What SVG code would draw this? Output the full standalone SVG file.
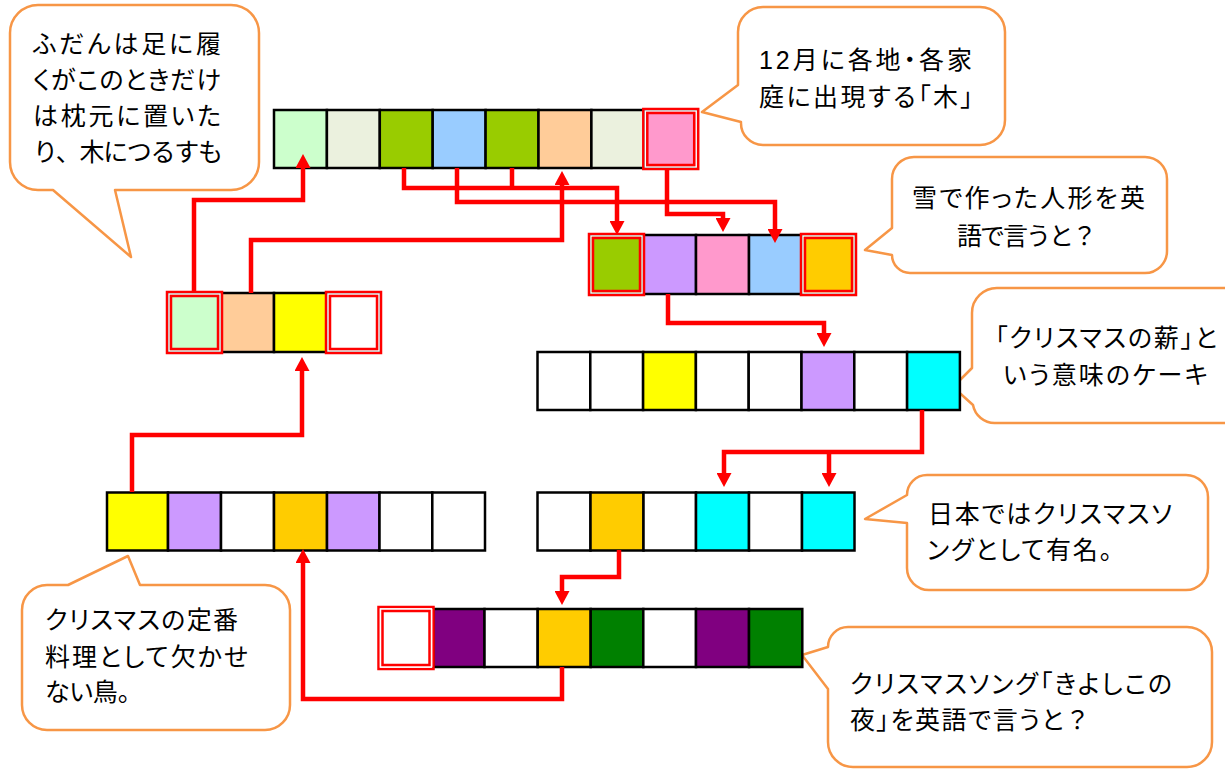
<svg xmlns="http://www.w3.org/2000/svg" width="1225" height="770" viewBox="0 0 1225 770">
<style>
.c{stroke:#000;stroke-width:2.5}
.ro{fill:none;stroke:#FF0000;stroke-width:2.5}
.rg{fill:none;stroke:#FFFFFF;stroke-width:1.5}
.ri{fill:none;stroke:#FF0000;stroke-width:2.5}
.co{fill:none;stroke:#FF0000;stroke-width:4.5;stroke-linejoin:miter}
.bub{fill:#FFFFFF;stroke:#F79646;stroke-width:2.5;stroke-linejoin:round}
.t{font-family:"Liberation Sans","Noto Sans CJK JP",sans-serif;font-size:25px;fill:#000;font-feature-settings:"palt"}
.w{font-feature-settings:normal}
</style>
<defs>
<marker id="ah" markerUnits="userSpaceOnUse" markerWidth="15" markerHeight="15" viewBox="0 0 14 15" refX="0" refY="7.5" orient="auto">
<path d="M0,0 L14,7.5 L0,15 Z" fill="#FF0000"/>
</marker>
</defs>
<rect width="1225" height="770" fill="#FFFFFF"/>

<g id="bubble-1">
<path class="bub" d="M38,5 H231 A28,28 0 0 1 259,33 V162 A28,28 0 0 1 231,190 H115 L131,257 L53,190 H38 A28,28 0 0 1 10,162 V33 A28,28 0 0 1 38,5 Z"/>
<text class="t" x="33" y="53" textLength="188" lengthAdjust="spacing">ふだんは足に履</text>
<text class="t" x="33" y="89" textLength="188" lengthAdjust="spacing">くがこのときだけ</text>
<text class="t" x="33" y="125" textLength="188" lengthAdjust="spacing">は枕元に置いた</text>
<text class="t w" x="33" y="161" textLength="190" lengthAdjust="spacing">り、木につるすも</text>
</g>

<g id="bubble-2">
<path class="bub" d="M763,7 H980 A25,25 0 0 1 1005,32 V120 A25,25 0 0 1 980,145 H763 A22,22 0 0 1 741,122 L702,112 L738,85 V32 A25,25 0 0 1 763,7 Z"/>
<text class="t" x="759" y="69" textLength="213" lengthAdjust="spacing">12月に各地・各家</text>
<text class="t" x="759" y="106" textLength="214" lengthAdjust="spacing">庭に出現する「木」</text>
</g>

<g id="bubble-3">
<path class="bub" d="M914,157 H1145 A22,22 0 0 1 1167,179 V251 A22,22 0 0 1 1145,273 H910 A18,18 0 0 1 892,255 L865,250 L892,228 V179 A22,22 0 0 1 914,157 Z"/>
<text class="t" x="912" y="207" textLength="233" lengthAdjust="spacing">雪で作った人形を英</text>
<text class="t w" x="957" y="245" textLength="140" lengthAdjust="spacing">語で言うと？</text>
</g>

<g id="bubble-4">
<path class="bub" d="M998,288 H1240 V423 H995 A22,22 0 0 1 973,405 L953,387 L972,368 V313 A25,25 0 0 1 998,288 Z"/>
<text class="t" x="995" y="347" textLength="222" lengthAdjust="spacing">「クリスマスの薪」と</text>
<text class="t" x="1003" y="384" textLength="205" lengthAdjust="spacing">いう意味のケーキ</text>
</g>

<g id="bubble-5">
<path class="bub" d="M927,475 H1186 A22,22 0 0 1 1208,497 V568 A22,22 0 0 1 1186,590 H929 A22,22 0 0 1 907,568 V523 L865,519 L907,495 A20,20 0 0 1 927,475 Z"/>
<text class="t" x="928" y="523" textLength="244" lengthAdjust="spacing">日本ではクリスマスソ</text>
<text class="t" x="927" y="559" textLength="185" lengthAdjust="spacing">ングとして有名。</text>
</g>

<g id="bubble-6">
<path class="bub" d="M47,585 H68 L128,556 L140,585 H265 A25,25 0 0 1 290,610 V705 A25,25 0 0 1 265,730 H47 A25,25 0 0 1 22,705 V610 A25,25 0 0 1 47,585 Z"/>
<text class="t" x="45" y="629" textLength="193" lengthAdjust="spacing">クリスマスの定番</text>
<text class="t" x="45" y="666" textLength="203" lengthAdjust="spacing">料理として欠かせ</text>
<text class="t" x="45" y="701" textLength="85" lengthAdjust="spacing">ない鳥。</text>
</g>

<g id="bubble-7">
<path class="bub" d="M848,627 H1187 A25,25 0 0 1 1212,652 V742 A25,25 0 0 1 1187,767 H853 A25,25 0 0 1 828,742 V689 L802,655 L828,647 A20,20 0 0 1 848,627 Z"/>
<text class="t" x="850" y="693" textLength="322" lengthAdjust="spacing">クリスマスソング「きよしこの</text>
<text class="t" x="850" y="729" textLength="240" lengthAdjust="spacing">夜」を英語で言うと<tspan class="w">？</tspan></text>
</g>

<g id="row-1">
<rect class="c" x="274" y="110" width="52.9" height="58" fill="#CCFFCC"/>
<rect class="c" x="326.9" y="110" width="52.9" height="58" fill="#EBF1DE"/>
<rect class="c" x="379.8" y="110" width="52.9" height="58" fill="#99CC00"/>
<rect class="c" x="432.7" y="110" width="52.9" height="58" fill="#99CCFF"/>
<rect class="c" x="485.6" y="110" width="52.9" height="58" fill="#99CC00"/>
<rect class="c" x="538.5" y="110" width="52.9" height="58" fill="#FFCC99"/>
<rect class="c" x="591.4" y="110" width="52.9" height="58" fill="#EBF1DE"/>
<rect class="c" x="644.3" y="110" width="52.9" height="58" fill="#FF99CC"/>
<rect class="ro" x="643.3" y="109" width="54.9" height="60"/>
<rect class="rg" x="645.3" y="111" width="50.9" height="56"/>
<rect class="ri" x="647.3" y="113" width="46.9" height="52"/>
</g>

<g id="row-2">
<rect class="c" x="590" y="235" width="53" height="59" fill="#99CC00"/>
<rect class="c" x="643" y="235" width="53" height="59" fill="#CC99FF"/>
<rect class="c" x="696" y="235" width="53" height="59" fill="#FF99CC"/>
<rect class="c" x="749" y="235" width="53" height="59" fill="#99CCFF"/>
<rect class="c" x="802" y="235" width="53" height="59" fill="#FFCC00"/>
<rect class="ro" x="589" y="234" width="55" height="61"/>
<rect class="rg" x="591" y="236" width="51" height="57"/>
<rect class="ri" x="593" y="238" width="47" height="53"/>
<rect class="ro" x="801" y="234" width="55" height="61"/>
<rect class="rg" x="803" y="236" width="51" height="57"/>
<rect class="ri" x="805" y="238" width="47" height="53"/>
</g>

<g id="row-3">
<rect class="c" x="168" y="293" width="53" height="59" fill="#CCFFCC"/>
<rect class="c" x="221" y="293" width="53" height="59" fill="#FFCC99"/>
<rect class="c" x="274" y="293" width="53" height="59" fill="#FFFF00"/>
<rect class="c" x="327" y="293" width="53" height="59" fill="#FFFFFF"/>
<rect class="ro" x="167" y="292" width="55" height="61"/>
<rect class="rg" x="169" y="294" width="51" height="57"/>
<rect class="ri" x="171" y="296" width="47" height="53"/>
<rect class="ro" x="326" y="292" width="55" height="61"/>
<rect class="rg" x="328" y="294" width="51" height="57"/>
<rect class="ri" x="330" y="296" width="47" height="53"/>
</g>

<g id="row-4">
<rect class="c" x="537.5" y="352" width="52.8" height="58" fill="#FFFFFF"/>
<rect class="c" x="590.3" y="352" width="52.8" height="58" fill="#FFFFFF"/>
<rect class="c" x="643.1" y="352" width="52.8" height="58" fill="#FFFF00"/>
<rect class="c" x="695.9" y="352" width="52.8" height="58" fill="#FFFFFF"/>
<rect class="c" x="748.7" y="352" width="52.8" height="58" fill="#FFFFFF"/>
<rect class="c" x="801.5" y="352" width="52.8" height="58" fill="#CC99FF"/>
<rect class="c" x="854.3" y="352" width="52.8" height="58" fill="#FFFFFF"/>
<rect class="c" x="907.1" y="352" width="52.8" height="58" fill="#00FFFF"/>
</g>

<g id="row-5">
<rect class="c" x="107" y="492.5" width="61" height="58" fill="#FFFF00"/>
<rect class="c" x="168" y="492.5" width="53" height="58" fill="#CC99FF"/>
<rect class="c" x="221" y="492.5" width="53" height="58" fill="#FFFFFF"/>
<rect class="c" x="274" y="492.5" width="53" height="58" fill="#FFCC00"/>
<rect class="c" x="327" y="492.5" width="52.5" height="58" fill="#CC99FF"/>
<rect class="c" x="379.5" y="492.5" width="52.8" height="58" fill="#FFFFFF"/>
<rect class="c" x="432.3" y="492.5" width="52.7" height="58" fill="#FFFFFF"/>
</g>

<g id="row-6">
<rect class="c" x="537.5" y="492.5" width="53" height="58" fill="#FFFFFF"/>
<rect class="c" x="590.5" y="492.5" width="53" height="58" fill="#FFCC00"/>
<rect class="c" x="643.5" y="492.5" width="52.5" height="58" fill="#FFFFFF"/>
<rect class="c" x="696" y="492.5" width="53" height="58" fill="#00FFFF"/>
<rect class="c" x="749" y="492.5" width="53" height="58" fill="#FFFFFF"/>
<rect class="c" x="802" y="492.5" width="52.5" height="58" fill="#00FFFF"/>
</g>

<g id="row-7">
<rect class="c" x="433.5" y="609" width="51" height="58" fill="#800080"/>
<rect class="c" x="484.5" y="609" width="53.2" height="58" fill="#FFFFFF"/>
<rect class="c" x="537.7" y="609" width="53" height="58" fill="#FFCC00"/>
<rect class="c" x="590.7" y="609" width="52.6" height="58" fill="#008000"/>
<rect class="c" x="643.3" y="609" width="52.7" height="58" fill="#FFFFFF"/>
<rect class="c" x="696" y="609" width="53" height="58" fill="#800080"/>
<rect class="c" x="749" y="609" width="53.3" height="58" fill="#008000"/>
<rect x="380" y="609" width="53.5" height="58" fill="#FFFFFF"/>
<rect class="ro" x="378.5" y="607" width="55" height="62"/>
<rect class="rg" x="380.5" y="609" width="51" height="58"/>
<rect class="ri" x="382.5" y="611" width="47" height="54"/>
</g>

<g id="connectors">
<path class="co" d="M194,293 V200 H303 V168" marker-end="url(#ah)"/>
<path class="co" d="M251,293 V240 H562 V185" marker-end="url(#ah)"/>
<path class="co" d="M404,168 V188 H617 V221" marker-end="url(#ah)"/>
<path class="co" d="M512,168 V188"/>
<path class="co" d="M457,168 V202 H775 V229" marker-end="url(#ah)"/>
<path class="co" d="M667,168 V214 H723 V218" marker-end="url(#ah)"/>
<path class="co" d="M668,294 V323 H824 V333" marker-end="url(#ah)"/>
<path class="co" d="M922,410 V452 H724 V473" marker-end="url(#ah)"/>
<path class="co" d="M829,452 V473" marker-end="url(#ah)"/>
<path class="co" d="M619,550 V577 H562 V591" marker-end="url(#ah)"/>
<path class="co" d="M562,667 V699 H303 V563" marker-end="url(#ah)"/>
<path class="co" d="M132,492 V435 H302 V371" marker-end="url(#ah)"/>
</g>
</svg>
